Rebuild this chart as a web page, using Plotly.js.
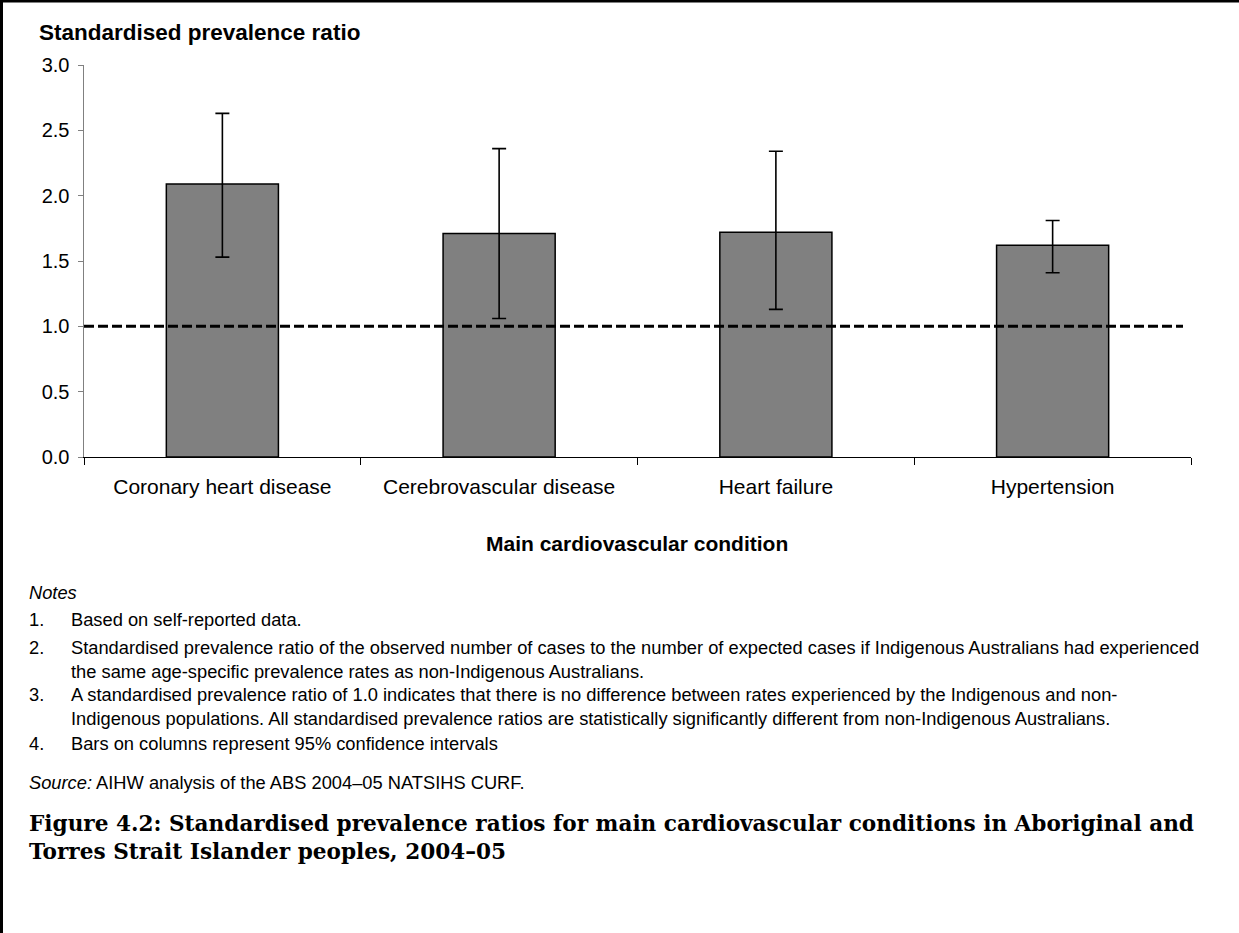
<!DOCTYPE html>
<html>
<head>
<meta charset="utf-8">
<script src="https://cdn.plot.ly/plotly-3.0.1.min.js"></script>
<style>
  html, body { margin: 0; padding: 0; background: #fff; overflow: hidden; }
  #chart { width: 1239px; height: 933px; }
</style>
</head>
<body>
<div id="chart"></div>
<script>
// Standardised prevalence ratios (Indigenous vs non-Indigenous), 2004–05
const conditions = ['Coronary heart disease', 'Cerebrovascular disease', 'Heart failure', 'Hypertension'];
const ratio = [2.09, 1.71, 1.72, 1.62];
const ciLower = [1.53, 1.06, 1.13, 1.41];
const ciUpper = [2.63, 2.36, 2.34, 1.81];
const referenceRatio = 1.0;
const yTicks = [0, 0.5, 1.0, 1.5, 2.0, 2.5, 3.0];

const noteLines = [
  ['1.', ['Based on self-reported data.']],
  ['2.', ['Standardised prevalence ratio of the observed number of cases to the number of expected cases if Indigenous Australians had experienced',
          'the same age-specific prevalence rates as non-Indigenous Australians.']],
  ['3.', ['A standardised prevalence ratio of 1.0 indicates that there is no difference between rates experienced by the Indigenous and non-',
          'Indigenous populations. All standardised prevalence ratios are statistically significantly different from non-Indigenous Australians.']],
  ['4.', ['Bars on columns represent 95% confidence intervals']]
];
const sourceText = '<i>Source:</i> AIHW analysis of the ABS 2004–05 NATSIHS CURF.';
const captionLines = [
  'Figure 4.2: Standardised prevalence ratios for main cardiovascular conditions in Aboriginal and',
  'Torres Strait Islander peoples, 2004–05'
];

// page geometry (pixels) and conversion to paper coordinates
const W = 1239, H = 933;
const M = { l: 84, r: 48, t: 65, b: 476 };
const plotW = W - M.l - M.r, plotH = H - M.t - M.b;
const fx = x => (x - M.l) / plotW;
const fy = y => (H - M.b - y) / plotH;

const SANS = 'Liberation Sans, Arial, sans-serif';
const SERIF = 'DejaVu Serif, Liberation Serif, serif';
const NOTE_SIZE = 18.3;
const NOTE_LINE = NOTE_SIZE * 1.3;   // plotly line height for <br> breaks

const trace = {
  type: 'bar',
  x: conditions,
  y: ratio,
  marker: { color: '#808080', line: { color: '#000', width: 1.5 } },
  error_y: {
    type: 'data',
    symmetric: false,
    array: ratio.map((v, i) => ciUpper[i] - v),
    arrayminus: ratio.map((v, i) => v - ciLower[i]),
    color: '#000',
    thickness: 1.6,
    width: 7
  },
  hoverinfo: 'x+y'
};

function textAnn(x, y, text, size, opts) {
  return Object.assign({
    xref: 'paper', yref: 'paper', x: fx(x), y: fy(y),
    xanchor: 'left', yanchor: 'middle', align: 'left', showarrow: false,
    text: text, font: { family: SANS, size: size, color: '#000' }
  }, opts || {});
}

const annotations = [];
annotations.push(textAnn(37, 33, '<b>Standardised prevalence ratio</b>', 22.5));
annotations.push(textAnn(637, 543, '<b>Main cardiovascular condition</b>', 21, { xanchor: 'center' }));
annotations.push(textAnn(27, 592, '<i>Notes</i>', NOTE_SIZE));

// first-line position of each numbered note; extra lines follow below it
const noteFirstLineY = [619, 648, 695, 743];
noteLines.forEach((n, i) => {
  const y0 = noteFirstLineY[i];
  const extra = n[1].length - 1;
  const centre = y0 + extra * NOTE_LINE / 2;
  annotations.push(textAnn(27, y0 - extra, n[0], NOTE_SIZE));
  annotations.push(textAnn(69, centre, n[1].join('<br>'), NOTE_SIZE));
});
annotations.push(textAnn(27, 782, sourceText, NOTE_SIZE));
annotations.push(textAnn(27, 837.5, '<b>' + captionLines.join('<br>') + '</b>', 21.6,
  { font: { family: SERIF, size: 21.6, color: '#000' } }));

const layout = {
  width: W, height: H,
  margin: M,
  paper_bgcolor: '#fff', plot_bgcolor: '#fff',
  showlegend: false,
  bargap: 0.595,
  font: { family: SANS, color: '#000' },
  xaxis: {
    type: 'category',
    tickson: 'boundaries',
    ticks: 'outside', ticklen: 7, tickcolor: '#000', tickwidth: 1,
    showline: true, linecolor: '#000', linewidth: 1,
    showgrid: false, zeroline: false,
    ticklabelstandoff: 11,
    tickfont: { family: SANS, size: 21, color: '#000' },
    fixedrange: true
  },
  yaxis: {
    range: [0, 3],
    tickvals: yTicks,
    tickformat: '.1f',
    ticks: 'outside', ticklen: 5, tickcolor: '#808080', tickwidth: 1,
    showline: true, linecolor: '#808080', linewidth: 1.5,
    showgrid: false, zeroline: false,
    ticklabelstandoff: 4,
    tickfont: { family: SANS, size: 20, color: '#000' },
    fixedrange: true
  },
  shapes: [
    // reference line at ratio 1.0
    { type: 'line', xref: 'paper', yref: 'y', x0: 0, x1: fx(1183), y0: referenceRatio, y1: referenceRatio,
      line: { color: '#000', width: 3, dash: '10px,4px' } },
    // frame edges
    { type: 'line', xref: 'paper', yref: 'paper', x0: fx(1.5), x1: fx(1.5), y0: fy(0), y1: fy(H),
      line: { color: '#000', width: 3 } },
    { type: 'line', xref: 'paper', yref: 'paper', x0: fx(0), x1: fx(W), y0: fy(1), y1: fy(1),
      line: { color: '#000', width: 3 } }
  ],
  annotations: annotations
};

Plotly.newPlot('chart', [trace], layout, { displayModeBar: false, staticPlot: true });
</script>
</body>
</html>
